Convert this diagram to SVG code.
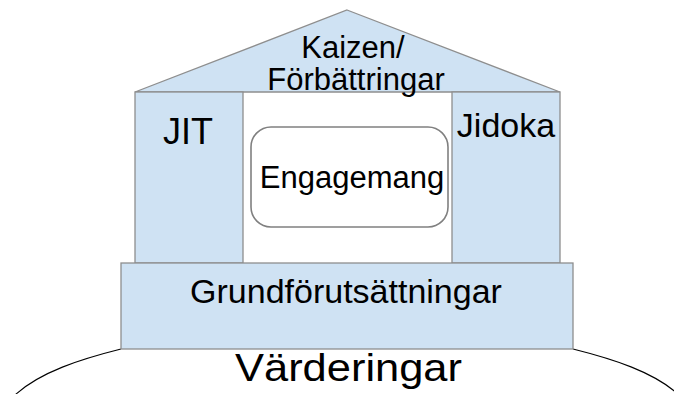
<svg xmlns="http://www.w3.org/2000/svg" width="674" height="394" viewBox="0 0 674 394">
  <style>
    .part { fill: #cfe2f3; stroke: #8e8e8e; stroke-width: 1.3; }
    .box { fill: #ffffff; stroke: #808080; stroke-width: 1.6; }
    .ground { fill: none; stroke: #000000; stroke-width: 1.1; }
    text { font-family: "Liberation Sans", Arial, sans-serif; fill: #000000; text-anchor: middle; }
  </style>
  <rect width="674" height="394" fill="#ffffff"/>

  <!-- base arc (values), partly hidden behind the foundation -->
  <g id="values">
    <path class="ground" d="M 15 395 C 40 372, 81 359, 121 349"/>
    <path class="ground" d="M 573 349 C 613 359, 654 372, 679 395"/>
  </g>

  <!-- roof -->
  <g id="roof">
    <polygon class="part" points="347,10 560,92 135,92"/>
  </g>

  <!-- pillars -->
  <g id="jit">
    <rect class="part" x="135" y="92" width="108" height="171"/>
  </g>
  <g id="jidoka">
    <rect class="part" x="452" y="92" width="108" height="171"/>
  </g>

  <!-- centre box -->
  <g id="engagemang">
    <rect class="box" x="251" y="127" width="197" height="100" rx="20" ry="20"/>
  </g>

  <!-- foundation -->
  <g id="grund">
    <rect class="part" x="121" y="263" width="452" height="86"/>
  </g>

  <!-- labels -->
  <g id="labels">
    <text x="353" y="58" font-size="31">Kaizen/</text>
    <text x="356" y="90" font-size="31">Förbättringar</text>
    <text x="188" y="144" font-size="36">JIT</text>
    <text x="506" y="137" font-size="34">Jidoka</text>
    <text x="352" y="188" font-size="31">Engagemang</text>
    <text x="346" y="303" font-size="34">Grundförutsättningar</text>
    <text x="348.5" y="381" font-size="39" textLength="227" lengthAdjust="spacingAndGlyphs">Värderingar</text>
  </g>
</svg>
